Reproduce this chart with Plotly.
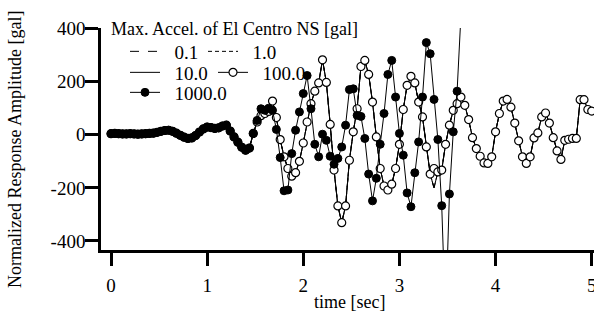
import plotly.graph_objects as go

# ---------------- data ----------------
dt = 0.04  # sampling interval [sec]

# first part, where every level overlaps (samples 0..36)
early_common = [4, 5, 4, 3, 3, 4, 3, 2, 3, 4, 5, 6, 9, 13, 16, 17, 13, 6, -2, -9,
                -14, -12, -3, 10, 22, 29, 27, 24, 26, 33, 36, 14, -8, -28, -47, -58, -50]

# 1000 gal response after sample 36 (diverges at the end)
resp_1000_late = [5, 54, 98, 92, 100, 92, 20, -86, -211, -208, -71, 17, 86, 155, 223, 98,
                  -36, -83, 2, -21, -81, -111, -89, -46, 36, 170, 173, 73, 69, -14, -148,
                  -249, -164, -36, 80, 227, 280, 142, 5, -77, -219, -271, -143, -27, 142,
                  347, 305, 133, -18, -267, -700, -223, 11, 164, 450]

# 100 gal response after sample 36
resp_100_late = [5, 48, 72, 80, 88, 127, 65, -18, -83, -127, -156, -143, -100, -31, 48, 117,
                 164, 195, 282, 197, 39, -133, -268, -331, -268, -96, 11, 98, 257, 280, 227,
                 123, -8, -127, -193, -208, -186, -127, -36, 95, 186, 220, 195, 123, 67, -46,
                 -148, -127, -140, -133, -36, 36, 92, 117, 142, 111, 57, -11, -52, -81, -106,
                 -108, -83, 11, 80, 127, 133, 104, 44, -23, -83, -108, -83, -12, 7, 67, 82,
                 44, -11, -61, -93, -21, -17, -14, -14, 132, 132, 95, 89]

# 0.1 / 1.0 / 10.0 gal responses (linear range, lying under the 100 gal curve)
resp_linear_late = [5, 48, 72, 80, 88, 127, 65, -18, -83, -127, -156, -143, -100, -31, 48, 117,
                    164, 195, 282, 197, 39, -133, -268, -331, -268, -96, 11, 98, 257, 280, 227,
                    123, -8, -127, -193, -208, -186, -127, -36, 95, 186, 220, 195, 123, 67, -46,
                    -148, -200, -140, -133, -36, 36, 92, 117, 142, 111, 57, -11, -52, -81, -106,
                    -108, -83, 11, 80, 127, 133, 104, 44, -23, -83, -108, -83, -12, 7, 67, 82,
                    44, -11, -61, -93, -21, -17, -14, -14, 132, 132, 95, 75]

level_labels = ["0.1", "1.0", "10.0", "100.0", "1000.0"]
x_ticks = [0, 1, 2, 3, 4, 5]
x_ticktext = ["0", "1", "2", "3", "4", "5"]
y_ticks = [-400, -200, 0, 200, 400]
y_ticktext = ["-400", "-200", "0", "200", "400"]

resp_1000 = early_common + resp_1000_late
resp_100 = early_common + resp_100_late
resp_linear = early_common + resp_linear_late
t_1000 = [round(i * dt, 2) for i in range(len(resp_1000))]
t_100 = [round(i * dt, 2) for i in range(len(resp_100))]
t_lin = [round(i * dt, 2) for i in range(len(resp_linear))]

# ---------------- figure ----------------
FONT = "Liberation Serif, Times New Roman, serif"
W, H = 594, 320
PL, PR, PT, PB = 101, 594, 28, 250   # plot area in pixels
L, T, R, B = PL, PT, W - PR, H - PB
PW, PH = PR - PL, PB - PT
NB = "\u00a0"


def px(xs):
    return (xs - PL) / PW


def py(ys):
    return (PB - ys) / PH


fig = go.Figure()
fig.add_trace(go.Scatter(x=t_lin, y=resp_linear, mode="lines", name=NB * 2 + level_labels[0],
                         line=dict(color="black", width=1, dash="9px,9px"), legend="legend"))
fig.add_trace(go.Scatter(x=t_lin, y=resp_linear, mode="lines", name=NB * 2 + level_labels[1],
                         line=dict(color="black", width=1, dash="4px,3px"), legend="legend2"))
fig.add_trace(go.Scatter(x=t_lin, y=resp_linear, mode="lines", name=NB * 2 + level_labels[2],
                         line=dict(color="black", width=1), legend="legend3"))
fig.add_trace(go.Scatter(x=t_100, y=resp_100, mode="lines+markers", name=NB * 2 + level_labels[3],
                         line=dict(color="black", width=1),
                         marker=dict(symbol="circle", size=8, color="white",
                                     line=dict(color="black", width=1.2)),
                         legend="legend4"))
fig.add_trace(go.Scatter(x=t_1000, y=resp_1000, mode="lines+markers", name=NB * 2 + level_labels[4],
                         line=dict(color="black", width=1),
                         marker=dict(symbol="circle", size=8, color="black",
                                     line=dict(color="black", width=1)),
                         legend="legend5"))

leg_common = dict(orientation="h", xanchor="left", yanchor="top", bgcolor="rgba(0,0,0,0)",
                  borderwidth=0, itemwidth=30,
                  font=dict(family=FONT, size=19, color="black"))

axis_common = dict(showline=True, linecolor="black", linewidth=2.5, ticks="outside",
                   ticklen=13, tickwidth=2.5, tickcolor="black", showgrid=False,
                   zeroline=False, mirror=False, ticklabeloverflow="allow",
                   tickfont=dict(family=FONT, size=19, color="black"))

fig.update_layout(
    width=W, height=H,
    margin=dict(l=L, r=R, t=T, b=B, autoexpand=False),
    paper_bgcolor="white", plot_bgcolor="white",
    font=dict(family=FONT, size=18, color="black"),
    showlegend=True,
    xaxis=dict(range=[-0.104, 5.024], tickvals=x_ticks, ticktext=x_ticktext,
               ticklabelstandoff=3, **axis_common),
    yaxis=dict(range=[-434, 402], tickvals=y_ticks, ticktext=y_ticktext,
               ticklabelstandoff=-4, **axis_common),
    legend=dict(x=px(125), y=py(32.5), **leg_common),
    legend2=dict(x=px(203), y=py(32.5), **leg_common),
    legend3=dict(x=px(125), y=py(53.5), **leg_common),
    legend4=dict(x=px(213), y=py(53.5), **leg_common),
    legend5=dict(x=px(125), y=py(73.5), **leg_common),
    annotations=[
        dict(text="Max. Accel. of El Centro NS [gal]", xref="paper", yref="paper",
             x=px(109), y=py(29), xanchor="left", yanchor="middle", showarrow=False,
             font=dict(family=FONT, size=18, color="black")),
        dict(text="Normalized Response Amplitude [gal]", xref="paper", yref="paper",
             x=px(15), y=py(150), xanchor="center", yanchor="middle", textangle=-90,
             showarrow=False, font=dict(family=FONT, size=18, color="black")),
        dict(text="time [sec]", xref="paper", yref="paper",
             x=px(349), y=py(302), xanchor="center", yanchor="middle", showarrow=False,
             font=dict(family=FONT, size=18, color="black")),
    ],
)

# place the figure at the page origin (no default body margin, no scrollbars)
page_fix = ("document.body.style.margin='0';"
            "document.body.style.overflow='hidden';"
            "document.documentElement.style.overflow='hidden';")

fig.write_html("out.html", post_script=page_fix, config={"displayModeBar": False})
